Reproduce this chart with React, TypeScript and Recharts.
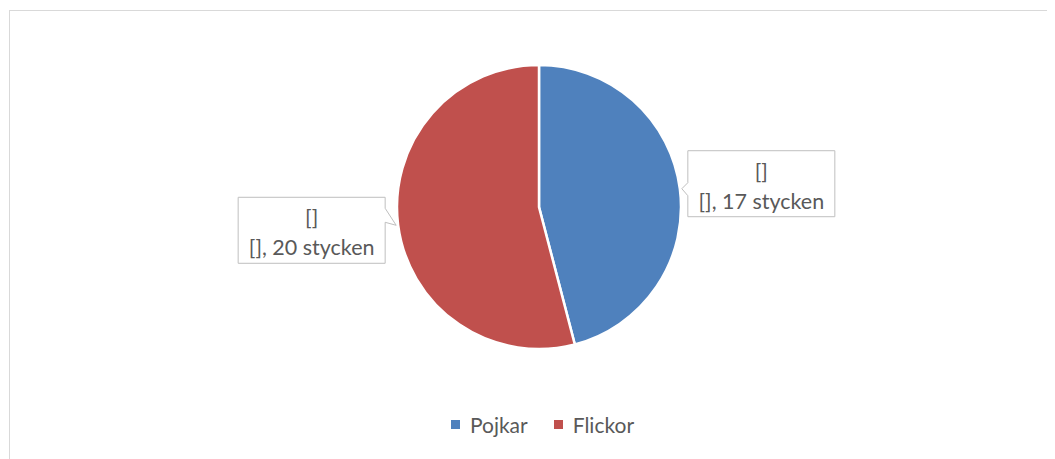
import { PieChart, Pie, Cell, Legend } from "recharts";

const categories = ["Pojkar", "Flickor"];
const counts = [17, 20];
const colors = ["#4F81BD", "#C0504D"];

const data = categories.map((name, i) => ({ name, value: counts[i] }));

const RAD = Math.PI / 180;

function Callout(props: any) {
    const { cx, cy, midAngle, outerRadius, value } = props;
    const tx = cx + (outerRadius + 2) * Math.cos(-midAngle * RAD);
    const ty = cy + (outerRadius + 2) * Math.sin(-midAngle * RAD);
    const right = tx > cx;
    const w = 147;
    const h = 66;
    const x0 = right ? tx + 6 : tx - 11 - w;
    const y0 = right ? ty - 38 : ty - 28;
    const x1 = x0 + w;
    const y1 = y0 + h;
    let d;
    if (right) {
        d = `M${x0},${y0} H${x1} V${y1} H${x0} V${ty + 7} L${tx},${ty} L${x0},${ty - 6} Z`;
    } else {
        d = `M${x0},${y0} H${x1} V${ty - 17} L${tx},${ty} L${x1},${ty - 3} V${y1} H${x0} Z`;
    }
    const mx = (x0 + x1) / 2;
    return (
        <g>
            <path d={d} fill="#fff" stroke="#BFBFBF" strokeWidth={1} />
            <text x={mx} y={y0 + 20} textAnchor="middle" dominantBaseline="central" fill="#595959" fontSize={21.5} fontFamily="Lato">
                []
            </text>
            <text x={mx} y={y0 + 50} textAnchor="middle" dominantBaseline="central" fill="#595959" fontSize={21.5} fontFamily="Lato">
                {`[], ${value} stycken`}
            </text>
        </g>
    );
}

function LegendBox() {
    return (
        <div style={{ display: "flex", justifyContent: "center", alignItems: "center", fontFamily: "Lato", fontSize: 21, color: "#595959" }}>
            {categories.map((name, i) => (
                <div key={name} style={{ display: "flex", alignItems: "center", marginRight: i < categories.length - 1 ? 26 : 0 }}>
                    <span style={{ display: "inline-block", width: 9, height: 9, background: colors[i], marginRight: 10 }} />
                    <span>{name}</span>
                </div>
            ))}
        </div>
    );
}

export default function App() {
    return (
        <div style={{ position: "relative", width: 1047, height: 451, overflow: "hidden", background: "#fff" }}>
            <div style={{ position: "absolute", left: 1, top: 2, width: 1100, height: 500, border: "1px solid #D9D9D9" }} />
            <div style={{ position: "absolute", left: 0, top: 0 }}>
                <PieChart width={1047} height={451}>
                    <Pie
                        data={data}
                        dataKey="value"
                        nameKey="name"
                        cx={526}
                        cy={194}
                        outerRadius={142}
                        startAngle={90}
                        endAngle={-270}
                        stroke="#fff"
                        strokeWidth={2.5}
                        label={Callout}
                        labelLine={false}
                        isAnimationActive={false}
                    >
                        {data.map((d, i) => (
                            <Cell key={d.name} fill={colors[i]} />
                        ))}
                    </Pie>
                    <Legend content={<LegendBox />} wrapperStyle={{ top: 404, left: 11, width: 1047 }} />
                </PieChart>
            </div>
        </div>
    );
}
